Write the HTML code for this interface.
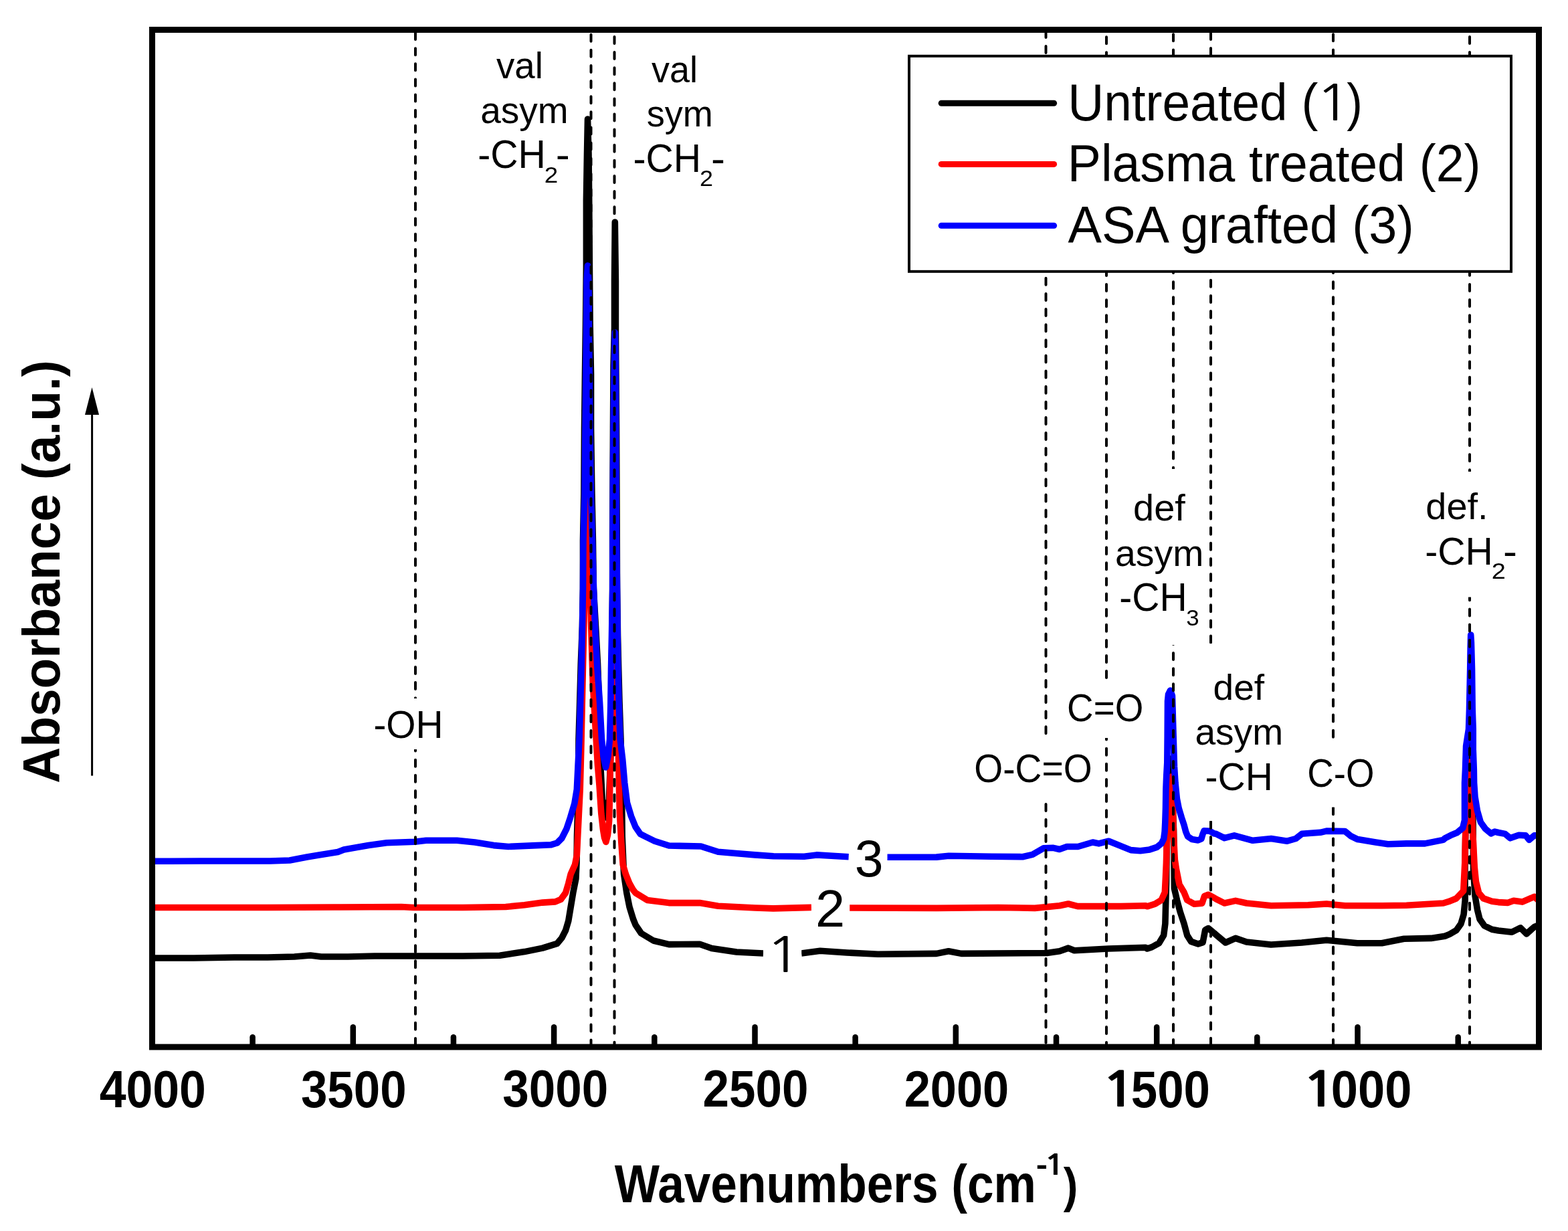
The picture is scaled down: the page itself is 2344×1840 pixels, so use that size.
<!DOCTYPE html>
<html><head><meta charset="utf-8"><title>FTIR spectra</title>
<style>html,body{margin:0;padding:0;background:#fff;}svg{display:block;}</style></head>
<body><svg width="2344" height="1840" viewBox="0 0 2344 1840">
<rect width="2344" height="1840" fill="#fff"/>
<g fill="none" stroke-width="9.6" stroke-linejoin="round" stroke-linecap="butt">
<path stroke="#000" d="M227,1432 L290,1432 L350,1431 L400,1431 L440,1430 L464,1428 L480,1430 L520,1430 L560,1429 L600,1429 L692,1429 L747,1428.2 L784,1422.6 L811,1417.1 L832.8,1410.4 L839.8,1402 L845.5,1390.8 L849.7,1376.7 L853.2,1355.6 L856.7,1334.6 L860.9,1313.5 L862,1290 L862.5,1250 L864.5,1180 L865,1105 L866.7,1049 L868.3,992 L870.5,936 L871.5,880 L871.5,808 L872.9,738 L873.5,640 L874.5,559 L875.5,484 L876.4,400 L876.4,300 L877.5,230 L878.5,178 L880,230 L880.7,300 L881.4,400 L882.1,484 L883.5,559 L883.5,640 L884.9,738 L886.4,808 L887.3,879 L890.5,936 L893.5,992 L896,1060 L896.5,1090 L897.5,1140 L898.2,1153 L900.3,1195 L905.5,1222 L910.5,1195 L912,1153 L913,1120 L913.5,1049 L914.5,992 L915,950 L915.7,879 L915.7,799 L916.5,639 L917.1,546 L918.5,490 L918.5,420 L919.3,332 L920.4,420 L920.4,490 L920.8,546 L921.5,639 L922.2,799 L922.5,879 L923.5,950 L924.5,992 L926,1049 L928,1105 L929.5,1180 L930.2,1250 L932.6,1306.5 L936.8,1334.6 L941,1355.6 L946.6,1373.9 L950,1382.3 L958.5,1395 L976.8,1406 L1000,1411.6 L1046,1411.2 L1064,1417.6 L1101,1423 L1141,1425 M1198,1425 L1226,1421.3 L1266.5,1424 L1312.5,1426.3 L1400,1425.4 L1418,1421.7 L1437,1425.4 L1565,1424.5 L1584,1421.7 L1597,1417.1 L1606,1420.8 L1657,1418 L1712.5,1416.2 L1715,1418 L1722,1415.6 L1732.6,1409.8 L1739.6,1398.1 L1741.9,1380.5 L1742.5,1357 L1743.5,1320 L1744,1280 L1745,1240 L1746.5,1200 L1748,1165 L1749.4,1134 L1751,1165 L1753,1200 L1754.5,1240 L1755,1280 L1755.4,1327.8 L1759.5,1345.4 L1764.2,1363 L1770,1380.5 L1774.7,1398.1 L1780.6,1407.4 L1791.1,1411 L1798.1,1408.6 L1801.7,1389.9 L1806.3,1387.5 L1815,1394.6 L1817.6,1397 L1832,1409 L1847,1402.4 L1863.5,1408 L1900,1412 L1946,1409 L1983,1405.2 L2029,1409.8 L2065.7,1409.8 L2098.8,1403.3 L2139.3,1402.4 L2160,1399.2 L2167,1396.4 L2176.9,1390.7 L2183.9,1380.9 L2188.1,1366.8 L2190.2,1345.7 L2190,1300 L2191,1230 L2193,1170 L2197,1100 L2200,1170 L2202,1230 L2202.6,1300 L2205,1338.7 L2208.5,1359.8 L2212,1373.9 L2219,1383.7 L2230.3,1389.3 L2240,1391 L2260,1393.2 L2273,1386.8 L2282,1395.8 L2293.6,1385.5 L2300,1383"/>
<path stroke="#ff0000" d="M227,1356.5 L300,1356.5 L400,1356.5 L500,1356 L600,1355.5 L618,1356.5 L692,1356.5 L756,1355.5 L784,1352.8 L811,1349.1 L830,1347.9 L838.4,1344.4 L845.5,1334.6 L849.7,1320.5 L853.2,1306.5 L859.5,1292.4 L862.3,1278.4 L863.7,1250.3 L865.8,1208 L867.2,1180 L868.8,1119 L870.9,1021 L873,929 L874.5,870 L876,800 L878.5,726 L881,800 L882.5,870 L883.5,929 L886.2,1021 L888.5,1060 L890.3,1090 L893.4,1143 L896,1174 L898.8,1216 L901.5,1240 L903.5,1252 L905.8,1258.5 L908.5,1248 L910.6,1227 L911.4,1195.5 L912.2,1153 L912.9,1130 L914.5,1100 L916.5,1050 L919,997 L921,1050 L922,1100 L924.5,1130 L925.5,1180 L926.4,1216.5 L928.8,1259 L931.2,1292.4 L935.4,1306.5 L941,1320.5 L946.6,1330.3 L950,1334.6 L967.6,1345.4 L1000,1349.6 L1046,1349.6 L1073.5,1354.2 L1128.7,1357 L1156,1357.9 L1213,1356.4 M1270,1357 L1400,1357.4 L1492,1356.5 L1547,1357.4 L1584,1353.7 L1597,1351 L1611,1354.6 L1676,1354.6 L1712.5,1353.7 L1715,1354.8 L1726.7,1351.2 L1736.1,1345.4 L1741.3,1333.7 L1742.5,1310.3 L1743.4,1290 L1744.2,1260 L1745,1240 L1746.5,1215 L1748,1190 L1750.9,1161 L1752,1175 L1753,1190 L1753.5,1215 L1754.9,1257 L1756.3,1285 L1758.4,1299 L1763,1322 L1770,1333.7 L1774.7,1345.4 L1785.3,1351.2 L1797,1350.1 L1800.5,1339.5 L1806.3,1337.2 L1815,1341.9 L1817.6,1343.6 L1830.4,1350 L1847,1346.4 L1863.5,1350 L1900.3,1353.7 L1955.4,1352.8 L1983,1351 L2010.6,1353.7 L2065.7,1353.7 L2102.5,1353.2 L2157.6,1350 L2167,1347.2 L2176.9,1343 L2187.7,1331.7 L2189.8,1289.5 L2190.5,1254 L2192,1220 L2194.5,1180 L2196.8,1139 L2198.5,1180 L2200,1212 L2202.2,1254.4 L2204.3,1296.5 L2206.4,1317.6 L2210.6,1334.5 L2217.6,1342.9 L2230.3,1347.2 L2240,1348.6 L2253.7,1349.4 L2262.7,1346.2 L2275.6,1348.1 L2293.6,1340.4 L2300,1346"/>
<path stroke="#0000ff" d="M227,1287.3 L300,1287 L404,1287 L433,1286 L459,1281 L477,1278 L505,1273.5 L514,1270 L551,1263.4 L578,1259.7 L620,1258.3 L637,1256.3 L683,1256.3 L710,1259 L738,1263.6 L760,1265.5 L802,1263.6 L824,1262.7 L832.8,1260 L839.8,1253 L846.9,1239 L852.5,1222.2 L858.8,1201 L862.3,1180 L866,1105 L867.7,1049 L869.3,992 L870.5,936 L871.5,880 L872,808 L874,740 L875,640 L876.5,500 L877.1,420 L878.5,397 L880,420 L880.5,500 L882,640 L883.5,740 L885.5,808 L887.5,880 L889.5,936 L892.5,992 L896.5,1049 L899.5,1105 L902,1130 L905.5,1147 L909,1130 L911.5,1105 L912.9,1050 L913.5,1000 L914.5,950 L915.7,880 L916,800 L916.5,700 L917.5,600 L918.5,540 L919.3,497 L920.1,540 L920.5,600 L920.8,700 L921.5,800 L922.5,880 L923.6,992 L925,1049 L927.1,1105 L930.7,1135 L933.7,1170 L937.5,1200 L943.5,1220 L950,1236 L957.1,1246.4 L964,1250 L978.7,1257.2 L1000,1264 L1047.8,1265 L1073.5,1273.3 L1128.7,1277.9 L1156.3,1279.7 L1202.2,1280.3 L1220.6,1277.9 L1268.8,1280.7 M1326.3,1281.2 L1400,1281.1 L1418.4,1279.3 L1482.7,1280.2 L1528.7,1280.7 L1543.4,1277.4 L1559.9,1267.9 L1574.6,1267.3 L1583.8,1269.5 L1594.9,1265.5 L1611.4,1265.5 L1633.5,1259 L1642.6,1260.9 L1657.4,1257.2 L1675.7,1264.6 L1690.5,1270.6 L1704.6,1271.7 L1718.6,1269.9 L1729.2,1266.4 L1736.2,1260.8 L1739.7,1253.8 L1741.1,1243.2 L1741.8,1229.2 L1742.5,1208.1 L1742.9,1180 L1743.7,1160 L1744.8,1140 L1745.2,1100 L1745.5,1048 L1746.5,1038 L1749.5,1032 L1752.4,1040 L1753,1060 L1754.1,1099 L1755.5,1146 L1757,1170 L1758,1180 L1759.4,1194 L1762.2,1208.1 L1766.4,1222.2 L1769.9,1232.7 L1772.7,1243.2 L1775.6,1250.3 L1781.9,1254.5 L1791,1255.9 L1795.9,1253.8 L1798,1246.7 L1800,1241.8 L1808.7,1242.3 L1815,1245.9 L1817.6,1246.2 L1830.4,1252.6 L1845.1,1248.9 L1872.7,1256.3 L1900.3,1253.5 L1924.2,1257.2 L1937.1,1253.5 L1946.3,1246.2 L1973.8,1244.3 L1983,1242.1 L2010.6,1242.5 L2019.8,1249.9 L2029,1254.4 L2056.5,1259 L2074.9,1261.8 L2102.5,1260.9 L2130.1,1260.9 L2157.6,1255.4 L2160,1253 L2168.4,1248.7 L2178.3,1244.5 L2186.7,1237.5 L2189.5,1226 L2189.5,1170 L2190.5,1150 L2191.6,1115 L2195.5,1090 L2196.5,1060 L2197.7,1000 L2198.2,968 L2198.7,949 L2199.4,960 L2200.5,1000 L2201.2,1060 L2202.2,1090 L2202.2,1120 L2203.3,1150 L2203.6,1170 L2205,1191 L2208.5,1212.2 L2213.4,1229 L2220.5,1238.9 L2228.9,1245.9 L2234.5,1243.1 L2240,1244.5 L2249.9,1246.4 L2257.6,1252.8 L2270.5,1248.3 L2280.8,1248.9 L2285.9,1255.4 L2293.6,1248.9 L2300,1248.9"/>
</g>
<g stroke="#000" stroke-width="4" stroke-linecap="round" fill="none">
<path d="M621,49 V1044" stroke-dasharray="10.0 13.12" stroke-dashoffset="23.04"/>
<path d="M621,1120 V1561" stroke-dasharray="10.0 13.12" stroke-dashoffset="7.40"/>
<path d="M883.5,49 V1561" stroke-dasharray="10.0 13.12" stroke-dashoffset="20.42"/>
<path d="M918.5,49 V1561" stroke-dasharray="10.0 13.12" stroke-dashoffset="17.22"/>
<path d="M1563.5,49 V1561" stroke-dasharray="10.0 13.12" stroke-dashoffset="3.12"/>
<path d="M1654,49 V1561" stroke-dasharray="10.0 13.12" stroke-dashoffset="16.92"/>
<path d="M1754,49 V1561" stroke-dasharray="10.0 13.12" stroke-dashoffset="20.82"/>
<path d="M1810,49 V1561" stroke-dasharray="10.0 13.12" stroke-dashoffset="0.12"/>
<path d="M1993,49 V1561" stroke-dasharray="10.0 13.12" stroke-dashoffset="20.82"/>
<path d="M2197,49 V1561" stroke-dasharray="10.0 13.12" stroke-dashoffset="17.12"/>
</g>
<rect x="1268.8" y="1240" width="57.50" height="80.00" fill="#fff"/>
<rect x="1212.9" y="1320" width="57.30" height="75.00" fill="#fff"/>
<rect x="1141" y="1390" width="57.20" height="72.00" fill="#fff"/>
<rect x="545" y="1044" width="130.00" height="76.00" fill="#fff"/>
<rect x="1445" y="1101" width="195.00" height="99.00" fill="#fff"/>
<rect x="1590" y="1018" width="125.00" height="85.00" fill="#fff"/>
<rect x="1660" y="701" width="140.00" height="263.00" fill="#fff"/>
<rect x="1780" y="962" width="145.00" height="265.00" fill="#fff"/>
<rect x="1950" y="1104" width="110.00" height="102.50" fill="#fff"/>
<rect x="2125" y="705" width="150.00" height="187.50" fill="#fff"/>
<rect x="227.5" y="44.5" width="2073" height="1520.5" fill="none" stroke="#000" stroke-width="9" stroke-linejoin="miter"/>
<g stroke="#000" stroke-width="8.5" stroke-linecap="round">
<line x1="527.8" y1="1562" x2="527.8" y2="1535.3"/>
<line x1="828.1" y1="1562" x2="828.1" y2="1535.3"/>
<line x1="1128.5" y1="1562" x2="1128.5" y2="1535.3"/>
<line x1="1428.8" y1="1562" x2="1428.8" y2="1535.3"/>
<line x1="1729.2" y1="1562" x2="1729.2" y2="1535.3"/>
<line x1="2029.5" y1="1562" x2="2029.5" y2="1535.3"/>
<line x1="377.6" y1="1562" x2="377.6" y2="1550.3"/>
<line x1="677.9" y1="1562" x2="677.9" y2="1550.3"/>
<line x1="978.3" y1="1562" x2="978.3" y2="1550.3"/>
<line x1="1278.6" y1="1562" x2="1278.6" y2="1550.3"/>
<line x1="1579.0" y1="1562" x2="1579.0" y2="1550.3"/>
<line x1="1879.3" y1="1562" x2="1879.3" y2="1550.3"/>
<line x1="2179.7" y1="1562" x2="2179.7" y2="1550.3"/>
</g>
<g font-family="Liberation Sans, Arial, sans-serif" fill="#000">
<text transform="translate(148.63,1655.00) scale(0.9185,1)" font-size="77.94" font-weight="bold">4000</text>
<text transform="translate(449.97,1655.00) scale(0.9089,1)" font-size="77.94" font-weight="bold">3500</text>
<text transform="translate(751.27,1654.40) scale(0.9106,1)" font-size="77.94" font-weight="bold">3000</text>
<text transform="translate(1050.52,1654.40) scale(0.9103,1)" font-size="77.94" font-weight="bold">2500</text>
<text transform="translate(1351.64,1653.80) scale(0.9359,1)" font-size="75.21" font-weight="bold">2000</text>
<text transform="translate(1690.81,1654.60) scale(0.9051,1)" font-size="78.22" font-weight="bold">500</text>
<text transform="translate(1989.71,1654.60) scale(0.9248,1)" font-size="78.22" font-weight="bold">000</text>
<text transform="translate(1645.07,1653.90) scale(1.2981,1)" font-size="71.20" font-weight="bold" font-family="NanumGothic, Liberation Sans, sans-serif">1</text>
<text transform="translate(1944.67,1653.90) scale(1.2981,1)" font-size="71.20" font-weight="bold" font-family="NanumGothic, Liberation Sans, sans-serif">1</text>
<text transform="translate(918.63,1797.30) scale(0.9003,1)" font-size="79.07" font-weight="bold">Wavenumbers (cm</text>
<text transform="translate(1548.77,1755.50) scale(1.1549,1)" font-size="45.00" font-weight="bold">-</text>
<text transform="translate(1559.76,1755.50) scale(1.3490,1)" font-size="41.35" font-weight="bold" font-family="NanumGothic, Liberation Sans, sans-serif">1</text>
<text transform="translate(1589.74,1797.30) scale(0.8890,1)" font-size="73.00" font-weight="bold">)</text>
<text transform="translate(89,1170.87) rotate(-90) scale(0.9543,1)" font-size="78.49" font-weight="bold">Absorbance (a.u.)</text>
<text transform="translate(741.98,116.80) scale(0.9693,1)" font-size="56.41">val</text>
<text transform="translate(718.19,183.80) scale(0.9769,1)" font-size="56.32">asym</text>
<text transform="translate(714.18,251.30) scale(0.9621,1)" font-size="59.46">-CH</text>
<text transform="translate(813.86,272.60) scale(1.0897,1)" font-size="33.81">2</text>
<text transform="translate(974.08,122.60) scale(0.9608,1)" font-size="56.14">val</text>
<text transform="translate(966.69,189.20) scale(0.9858,1)" font-size="54.83">sym</text>
<text transform="translate(946.39,257.10) scale(0.9611,1)" font-size="59.46">-CH</text>
<text transform="translate(1045.90,277.80) scale(1.0637,1)" font-size="33.81">2</text>
<text transform="translate(558.40,1102.90) scale(0.9920,1)" font-size="57.31">-OH</text>
<text transform="translate(1456.20,1169.40) scale(0.9356,1)" font-size="59.03">O-C=O</text>
<text transform="translate(1595.10,1077.90) scale(0.9446,1)" font-size="58.02">C=O</text>
<text transform="translate(1694.05,778.10) scale(1.0105,1)" font-size="55.31">def</text>
<text transform="translate(1667.07,846.10) scale(0.9831,1)" font-size="56.32">asym</text>
<text transform="translate(1673.29,913.20) scale(0.9755,1)" font-size="58.45">-CH</text>
<text transform="translate(1773.28,934.90) scale(1.0339,1)" font-size="33.67">3</text>
<text transform="translate(1813.59,1045.70) scale(1.0096,1)" font-size="54.48">def</text>
<text transform="translate(1786.39,1112.80) scale(0.9916,1)" font-size="55.58">asym</text>
<text transform="translate(1801.59,1180.70) scale(0.9940,1)" font-size="57.31">-CH</text>
<text transform="translate(1954.31,1176.00) scale(0.9330,1)" font-size="58.60">C-O</text>
<text transform="translate(2131.35,776.10) scale(1.0208,1)" font-size="54.76">def.</text>
<text transform="translate(2130.28,843.70) scale(0.9932,1)" font-size="57.59">-CH</text>
<text transform="translate(2229.70,864.70) scale(1.1317,1)" font-size="33.52">2</text>
<text transform="translate(1277.78,1310.40) scale(0.9817,1)" font-size="78.22">3</text>
<text transform="translate(1219.03,1384.90) scale(1.0319,1)" font-size="76.93">2</text>
<text transform="translate(1143.91,1452.50) scale(1.2580,1)" font-size="72.14" font-family="NanumGothic, Liberation Sans, sans-serif">1</text>
<text transform="translate(830.82,251.30) scale(1.0633,1)" font-size="59.50">-</text>
<text transform="translate(1062.93,257.10) scale(1.0564,1)" font-size="59.50">-</text>
<text transform="translate(2247.03,843.70) scale(1.0564,1)" font-size="59.50">-</text>
</g>
<rect x="1359" y="83.8" width="900" height="322" fill="#fff" stroke="#000" stroke-width="4"/>
<g stroke-width="9" stroke-linecap="round">
<line x1="1407.2" y1="154.2" x2="1575.6" y2="154.2" stroke="#000"/>
<line x1="1407.2" y1="245.4" x2="1575.6" y2="245.4" stroke="#ff0000"/>
<line x1="1407.2" y1="337.3" x2="1575.6" y2="337.3" stroke="#0000ff"/>
</g>
<g font-family="Liberation Sans, Arial, sans-serif" fill="#000">
<text transform="translate(1596.24,179.50) scale(0.9530,1)" font-size="78.50">Untreated (</text>
<text transform="translate(1966.16,179.50) scale(1.2132,1)" font-size="73.35" font-family="NanumGothic, Liberation Sans, sans-serif">1</text>
<text transform="translate(2013.27,179.50) scale(0.9037,1)" font-size="78.50">)</text>
<text transform="translate(1595.84,270.70) scale(0.9695,1)" font-size="77.47">Plasma treated (2)</text>
<text transform="translate(1596.55,362.90) scale(0.9637,1)" font-size="78.49">ASA grafted (3)</text>
</g>
<line x1="137.6" y1="1159.6" x2="137.6" y2="615" stroke="#000" stroke-width="3"/>
<polygon points="137.5,579 127,620 148,620" fill="#000"/>
</svg></body></html>
